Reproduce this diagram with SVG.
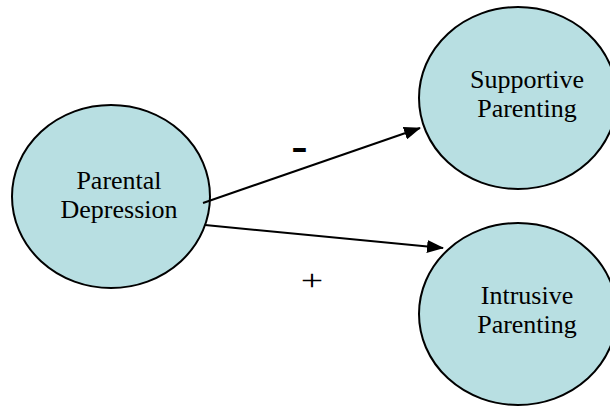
<svg xmlns="http://www.w3.org/2000/svg" width="610" height="407" viewBox="0 0 610 407">
<style>
.node{fill:#B8DFE2;stroke:#000;stroke-width:2}
.lbl{font-family:"Liberation Serif","Times New Roman",serif;font-size:26px;fill:#000;text-anchor:middle}
.edge{stroke:#000;stroke-width:2;fill:none;marker-end:url(#arr)}
</style>
<defs>
<marker id="arr" markerUnits="userSpaceOnUse" markerWidth="17" markerHeight="13" refX="16" refY="6.5" orient="auto">
<path d="M0,0 L17,6.5 L0,13 z" fill="#000"/>
</marker>
</defs>
<rect width="610" height="407" fill="#fff"/>
<g id="parental-depression">
<ellipse class="node" cx="111" cy="196.5" rx="99" ry="91.5"/>
<text class="lbl" x="119" y="189">Parental</text>
<text class="lbl" x="119" y="218">Depression</text>
</g>
<g id="supportive-parenting">
<ellipse class="node" cx="518" cy="98" rx="99" ry="91"/>
<text class="lbl" x="527" y="88">Supportive</text>
<text class="lbl" x="527" y="117">Parenting</text>
</g>
<g id="intrusive-parenting">
<ellipse class="node" cx="518" cy="314" rx="99" ry="91"/>
<text class="lbl" x="527" y="304">Intrusive</text>
<text class="lbl" x="527" y="333">Parenting</text>
</g>
<g id="connectors">
<line class="edge" x1="203" y1="203" x2="420" y2="128"/>
<line class="edge" x1="205" y1="225" x2="443" y2="248"/>
<text transform="translate(299.5,158.5) scale(1.5,1)" style="font-family:'Liberation Sans',Arial,sans-serif;font-size:33px;font-weight:bold;text-anchor:middle">-</text>
<text transform="translate(312,289.5) scale(1.33,1)" style="font-family:'Liberation Serif','Times New Roman',serif;font-size:30px;text-anchor:middle">+</text>
</g>
</svg>
